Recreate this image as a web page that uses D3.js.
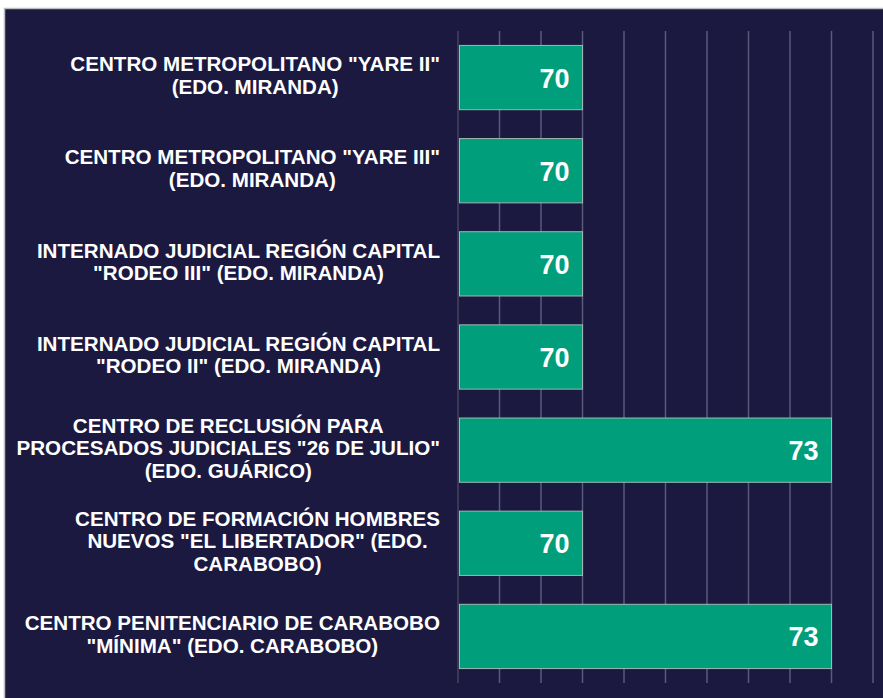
<!DOCTYPE html>
<html>
<head>
<meta charset="utf-8">
<script src="https://cdn.jsdelivr.net/npm/d3@7"></script>
<style>
  body { margin: 0; background: #ffffff; }
  svg { display: block; font-family: "Liberation Sans", Arial, sans-serif; }
</style>
</head>
<body>
<svg id="chart"></svg>
<script>
// Data
const categories = [
  ['CENTRO METROPOLITANO "YARE II"', '(EDO. MIRANDA)'],
  ['CENTRO METROPOLITANO "YARE III"', '(EDO. MIRANDA)'],
  ['INTERNADO JUDICIAL REGIÓN CAPITAL', '"RODEO III" (EDO. MIRANDA)'],
  ['INTERNADO JUDICIAL REGIÓN CAPITAL', '"RODEO II" (EDO. MIRANDA)'],
  ['CENTRO DE RECLUSIÓN PARA', 'PROCESADOS JUDICIALES "26 DE JULIO"', '(EDO. GUÁRICO)'],
  ['CENTRO DE FORMACIÓN HOMBRES', 'NUEVOS "EL LIBERTADOR" (EDO.', 'CARABOBO)'],
  ['CENTRO PENITENCIARIO DE CARABOBO', '"MÍNIMA" (EDO. CARABOBO)']
];
const values = [70, 70, 70, 70, 73, 70, 73];
const gridTicks = [68.5, 69, 69.5, 70, 70.5, 71, 71.5, 72, 72.5, 73, 73.5];

const W = 883, H = 698;
const svg = d3.select("#chart").attr("width", W).attr("height", H);

// dark panel with a thin grey frame on the top and left
svg.append("rect")
  .attr("x", 4.5).attr("y", 8.5)
  .attr("width", W).attr("height", H)
  .attr("fill", "#1b1940")
  .attr("stroke", "#bdbdbd")
  .attr("stroke-width", 1.5);

const x = d3.scaleLinear().domain([68.5, 73.5]).range([458, 873]);
const y = d3.scaleBand()
  .domain(d3.range(categories.length))
  .range([31, 683])
  .paddingInner(0.31)
  .paddingOuter(0.155);

// gridlines
svg.append("g").selectAll("line")
  .data(gridTicks)
  .join("line")
  .attr("x1", d => x(d)).attr("x2", d => x(d))
  .attr("y1", 31).attr("y2", 683)
  .attr("stroke", (d, i) => i === 0 ? "#45455e" : "#5b5a7c")
  .attr("stroke-width", 1.5);

// bars
svg.append("g").selectAll("rect")
  .data(values)
  .join("rect")
  .attr("x", x(68.5) + 1.5)
  .attr("y", (d, i) => y(i))
  .attr("width", d => x(d) - x(68.5) - 1.5)
  .attr("height", y.bandwidth())
  .attr("fill", "#009e7b")
  .attr("stroke", "#9fb9b4")
  .attr("stroke-width", 1);

// value labels
svg.append("g").selectAll("text")
  .data(values)
  .join("text")
  .attr("x", d => x(d) - 13)
  .attr("y", (d, i) => y(i) + y.bandwidth() / 2 + 10)
  .attr("text-anchor", "end")
  .attr("fill", "#ffffff")
  .attr("font-weight", "bold")
  .attr("font-size", 27)
  .text(d => d);

// category labels: lines centred inside a block that is right-aligned
const lineH = 22.5;
const labelRight = 440;
const labels = svg.append("g").selectAll("g")
  .data(categories)
  .join("g");

labels.each(function(lines, i) {
  const g = d3.select(this);
  const cy = y(i) + y.bandwidth() / 2;
  const t = g.append("text")
    .attr("fill", "#ffffff")
    .attr("font-weight", "bold")
    .attr("font-size", 20.6)
    .attr("text-anchor", "middle");
  const spans = t.selectAll("tspan")
    .data(lines)
    .join("tspan")
    .attr("y", (d, j) => cy + 5 + (j - (lines.length - 1) / 2) * lineH)
    .text(d => d);
  let maxW = 0;
  spans.each(function() { maxW = Math.max(maxW, this.getComputedTextLength()); });
  spans.attr("x", labelRight - maxW / 2);
});
</script>
</body>
</html>
